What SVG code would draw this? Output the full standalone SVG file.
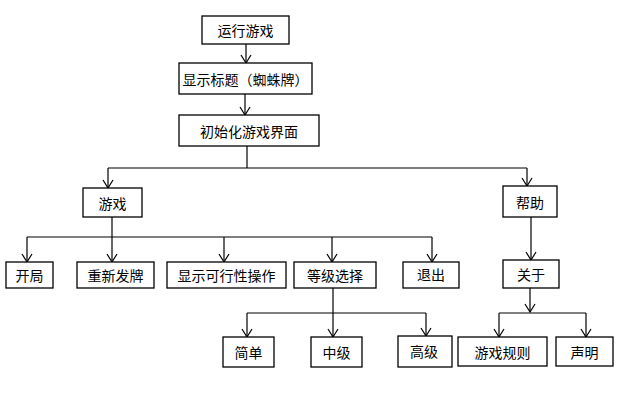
<svg xmlns="http://www.w3.org/2000/svg" width="626" height="413" viewBox="0 0 626 413">
<defs>
<style>
.box{fill:#fff;stroke:#000;stroke-width:1.3}
.t{font-family:"Noto Sans CJK SC","Noto Sans",sans-serif;font-size:14px;fill:#000;text-anchor:middle;dominant-baseline:central}
.c{fill:none;stroke:#000;stroke-width:1.2}
</style>
<marker id="v" markerWidth="10" markerHeight="12" refX="9" refY="6" orient="auto" markerUnits="userSpaceOnUse" viewBox="0 0 10 12">
<path d="M1,1 L9,6 L1,11" fill="none" stroke="#000" stroke-width="1.2"/>
</marker>
</defs>
<rect width="626" height="413" fill="#fff"/>
<g id="connectors">
<path class="c" d="M246,44 V63" marker-end="url(#v)"/>
<path class="c" d="M245,94 V115" marker-end="url(#v)"/>
<path class="c" d="M247,146 V168"/>
<path class="c" d="M108,168 H527"/>
<path class="c" d="M108,168 V188" marker-end="url(#v)"/>
<path class="c" d="M527,168 V186" marker-end="url(#v)"/>
<path class="c" d="M112,217 V262" marker-end="url(#v)"/>
<path class="c" d="M27,237 H432"/>
<path class="c" d="M27,237 V262" marker-end="url(#v)"/>
<path class="c" d="M224,237 V262" marker-end="url(#v)"/>
<path class="c" d="M332,237 V262" marker-end="url(#v)"/>
<path class="c" d="M432,237 V262" marker-end="url(#v)"/>
<path class="c" d="M531,217 V260" marker-end="url(#v)"/>
<path class="c" d="M333,288 V337" marker-end="url(#v)"/>
<path class="c" d="M247,313 H426"/>
<path class="c" d="M247,313 V337" marker-end="url(#v)"/>
<path class="c" d="M426,313 V336" marker-end="url(#v)"/>
<path class="c" d="M530,288 V312" marker-end="url(#v)"/>
<path class="c" d="M499,313 H586"/>
<path class="c" d="M499,313 V337" marker-end="url(#v)"/>
<path class="c" d="M586,313 V337" marker-end="url(#v)"/>
</g>
<g id="n1"><rect class="box" x="202" y="16" width="87" height="28"/><text class="t" x="245.5" y="30">运行游戏</text></g>
<g id="n2"><rect class="box" x="179" y="63" width="133" height="31"/><text class="t" x="245.5" y="78.5">显示标题（蜘蛛牌）</text></g>
<g id="n3"><rect class="box" x="179" y="115" width="140" height="31"/><text class="t" x="249" y="130.5">初始化游戏界面</text></g>
<g id="n4"><rect class="box" x="83" y="188" width="59" height="29"/><text class="t" x="112.5" y="202.5">游戏</text></g>
<g id="n5"><rect class="box" x="503" y="186" width="54" height="31"/><text class="t" x="530" y="201.5">帮助</text></g>
<g id="n6"><rect class="box" x="6" y="262" width="47" height="26"/><text class="t" x="29.5" y="275">开局</text></g>
<g id="n7"><rect class="box" x="77" y="262" width="77" height="26"/><text class="t" x="115.5" y="275">重新发牌</text></g>
<g id="n8"><rect class="box" x="167" y="262" width="119" height="26"/><text class="t" x="226.5" y="275">显示可行性操作</text></g>
<g id="n9"><rect class="box" x="294" y="262" width="82" height="26"/><text class="t" x="335" y="275">等级选择</text></g>
<g id="n10"><rect class="box" x="403" y="262" width="56" height="26"/><text class="t" x="431" y="274">退出</text></g>
<g id="n11"><rect class="box" x="503" y="260" width="56" height="28"/><text class="t" x="531" y="274">关于</text></g>
<g id="n12"><rect class="box" x="223" y="337" width="51" height="30"/><text class="t" x="248.5" y="352">简单</text></g>
<g id="n13"><rect class="box" x="311" y="337" width="51" height="30"/><text class="t" x="336.5" y="352">中级</text></g>
<g id="n14"><rect class="box" x="398" y="336" width="54" height="31"/><text class="t" x="424" y="351">高级</text></g>
<g id="n15"><rect class="box" x="458" y="337" width="89" height="29"/><text class="t" x="502.5" y="351.5">游戏规则</text></g>
<g id="n16"><rect class="box" x="556" y="337" width="57" height="29"/><text class="t" x="584.5" y="351.5">声明</text></g>
</svg>
